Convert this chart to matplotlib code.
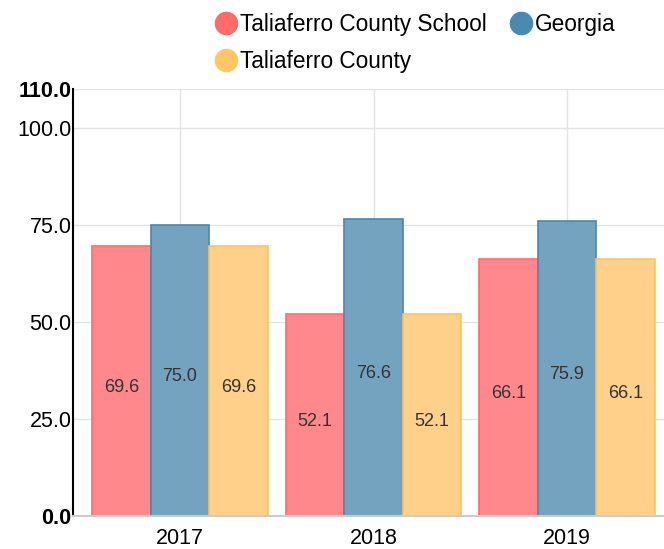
import matplotlib
matplotlib.use('Agg')
import matplotlib.pyplot as plt
from matplotlib.lines import Line2D
import numpy as np

plt.rcParams['font.family'] = ['Liberation Sans', 'DejaVu Sans']

# 데이터
years = ['2017', '2018', '2019']
school = [69.6, 52.1, 66.1]
georgia = [75.0, 76.6, 75.9]
county = [69.6, 52.1, 66.1]
series_names = ['Taliaferro County School', 'Georgia', 'Taliaferro County']
y_ticks = [0, 25, 50, 75, 100, 110]

fills = ['#ff888c', '#74a3c0', '#ffd08a']
edges = ['#ff6b6f', '#4a87ad', '#ffc265']
markers = ['#ff6b6b', '#4a89b0', '#ffc766']

fig = plt.figure(figsize=(6.64, 5.49), dpi=100)
ax = fig.add_axes([73 / 664, 33 / 549, 591 / 664, 427 / 549])

x = np.arange(len(years))
w = 0.302
for i, vals in enumerate([school, georgia, county]):
    pos = x + (i - 1) * w
    ax.bar(pos, vals, width=w, color=fills[i], edgecolor=edges[i], linewidth=1.2, zorder=2)
    for p, v in zip(pos, vals):
        ax.annotate(f'{v:.1f}', (p, v / 2), xytext=(0, -4.5), textcoords='offset points',
                    ha='center', va='center', fontsize=13, color='#333333', zorder=3)

ax.set_xlim(-0.553, 2.501)
ax.set_ylim(0, 110)
ax.set_xticks(x)
ax.set_xticklabels(years, fontsize=15.5)
ax.set_yticks(y_ticks)
ax.set_yticklabels([f'{t:.1f}' for t in y_ticks], fontsize=15.5)
for lbl in ax.get_yticklabels():
    if lbl.get_text() in ('0.0', '110.0'):
        lbl.set_fontweight('bold')
ax.tick_params(axis='y', length=0, pad=1)
ax.tick_params(axis='x', length=0, pad=9)
ax.grid(True, color='#e3e3e3', linewidth=1, zorder=0)
ax.set_axisbelow(True)
for s in ['top', 'right']:
    ax.spines[s].set_visible(False)
ax.spines['left'].set_color('black')
ax.spines['left'].set_linewidth(1.5)
ax.spines['bottom'].set_color('#cccccc')
ax.spines['bottom'].set_linewidth(1.5)

# 범례 (행 우선 순서로 보이도록 열 우선으로 배치)
handles = [Line2D([], [], marker='o', linestyle='', markersize=16, color=c) for c in markers]
order = [0, 2, 1]
fig.legend([handles[k] for k in order], [series_names[k] for k in order],
           loc='upper left', bbox_to_anchor=(197 / 664, 1.006), ncol=2, frameon=False,
           fontsize=16.3, handletextpad=0.0, columnspacing=0.92, labelspacing=0.62,
           handlelength=1.2, borderaxespad=0.3)

fig.savefig('out.png', dpi=100)
